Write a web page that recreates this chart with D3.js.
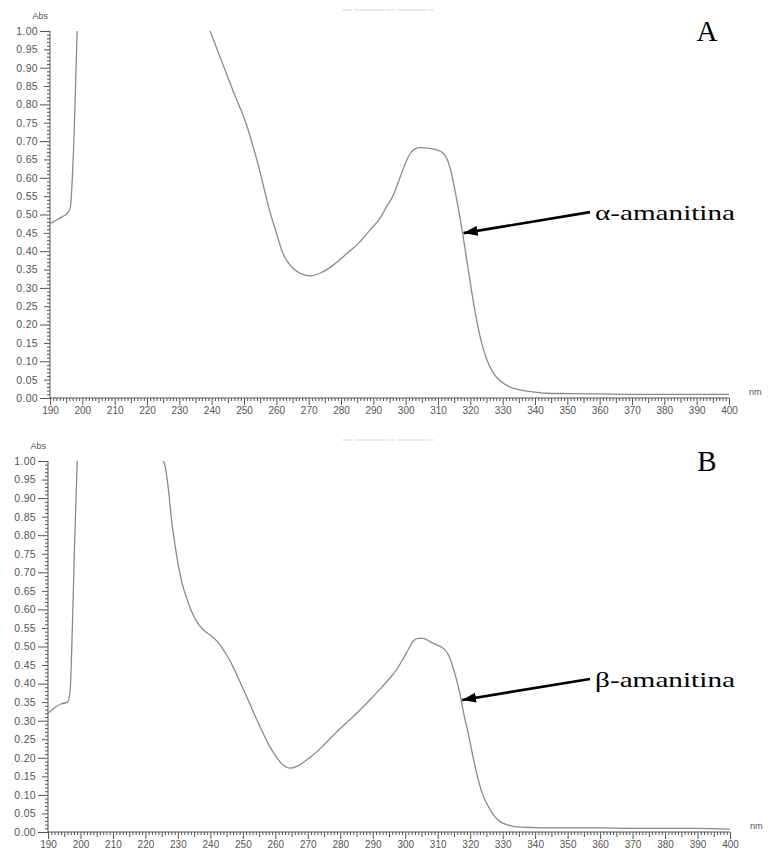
<!DOCTYPE html>
<html><head><meta charset="utf-8">
<script src="https://cdn.jsdelivr.net/npm/d3@7"></script>
<style>body{margin:0;background:#fff}svg{display:block}</style>
</head><body>
<svg id="c" width="769" height="858"></svg>
<script>
// ---- data ----
const xTickLabels = [190,200,210,220,230,240,250,260,270,280,290,300,310,320,330,340,350,360,370,380,390,400];
const yTickLabels = [0,0.05,0.10,0.15,0.20,0.25,0.30,0.35,0.40,0.45,0.50,0.55,0.60,0.65,0.70,0.75,0.80,0.85,0.90,0.95,1.00];

const nmA = [190,192,194,195.5,196.3,196.8,197.3,197.8,198.4,null,239.5,243,246.7,250.8,254.4,258,260,262.2,265,267.3,270.4,274,277.6,282,285.9,289,292.1,294,296.2,298,299.3,301,302.4,304.4,307,309.6,311.5,312.7,313.8,314.7,316,317.5,319,320.5,322,323.5,325,327,329.2,332,335.4,340,343.6,350,360,370,380,390,400];
const absA = [0.475,0.485,0.495,0.505,0.52,0.58,0.68,0.82,1.0,null,1.0,0.92,0.835,0.744,0.635,0.508,0.45,0.39,0.355,0.34,0.333,0.342,0.362,0.395,0.426,0.458,0.49,0.52,0.553,0.595,0.626,0.66,0.676,0.682,0.681,0.676,0.668,0.653,0.625,0.59,0.53,0.455,0.37,0.285,0.21,0.15,0.107,0.07,0.047,0.031,0.022,0.016,0.013,0.012,0.011,0.01,0.01,0.01,0.01];

const nmB = [190,192,194,196,196.8,197.5,198.2,199.0,null,225.5,226,227,228.1,229,230.1,231.3,232.7,234.2,235.8,237.8,239.9,242.5,245,247,249.1,251,253.2,255.5,258,260.5,262.5,264.5,266.5,269,272,275,278,282,286,289,292.2,295.3,297.5,299.4,300.8,302.5,304,305.5,307.6,309.5,311.7,313.3,314.3,315.5,316.8,318,319.4,320.7,322,323.5,325.1,327,329.2,332,335.3,340,350,360,370,380,390,400];
const absB = [0.32,0.335,0.345,0.35,0.38,0.55,0.78,1.0,null,1.0,0.989,0.93,0.836,0.78,0.72,0.67,0.63,0.595,0.567,0.545,0.531,0.51,0.477,0.445,0.405,0.368,0.324,0.28,0.235,0.2,0.18,0.172,0.176,0.19,0.21,0.235,0.262,0.295,0.328,0.355,0.385,0.415,0.44,0.468,0.49,0.515,0.522,0.522,0.513,0.505,0.495,0.478,0.455,0.42,0.374,0.32,0.266,0.21,0.158,0.11,0.077,0.048,0.028,0.018,0.013,0.012,0.011,0.011,0.01,0.01,0.01,0.008];

const panels = [
  {nm: nmA, abs: absA, letter: "A", label: "α-amanitina", arrowNm: 317.6,
   x0: 50, x1: 729, yTop: 31, yBot: 398},
  {nm: nmB, abs: absB, letter: "B", label: "β-amanitina", arrowNm: 317.2,
   x0: 48, x1: 730, yTop: 461, yBot: 832}
];

const svg = d3.select("#c");
const defs = svg.append("defs");
defs.append("marker").attr("id","ah").attr("viewBox","0 0 14 10")
  .attr("refX",14).attr("refY",5).attr("markerWidth",14).attr("markerHeight",10)
  .attr("markerUnits","userSpaceOnUse").attr("orient","auto")
  .append("path").attr("d","M0,0L14,5L0,10Z").attr("fill","#000");

const axisColor = "#555";
const textColor = "#555";
const sans = "Liberation Sans, Arial, sans-serif";
const serif = "Liberation Serif, Times New Roman, serif";

panels.forEach((p, i) => {
  const x = d3.scaleLinear().domain([190,400]).range([p.x0, p.x1]);
  const y = d3.scaleLinear().domain([0,1]).range([p.yBot, p.yTop]);
  const g = svg.append("g");

  // faint title trace
  g.append("line").attr("x1",342).attr("x2",434).attr("y1",p.yTop-21).attr("y2",p.yTop-21)
    .attr("stroke","#d8d8d8").attr("stroke-width",1.2).attr("stroke-dasharray","10,2,30,1");

  const styleTicks = s => { s.select(".domain").remove(); s.selectAll("line").attr("stroke",axisColor); };

  // y ticks
  const yMinor = d3.range(0,101).map(d=>d/100);
  g.append("g").attr("transform",`translate(${p.x0},0)`)
    .call(d3.axisLeft(y).tickValues(yMinor.filter(d=>Math.round(d*100)%5!==0)).tickSize(3).tickFormat(""))
    .call(styleTicks);
  g.append("g").attr("transform",`translate(${p.x0},0)`)
    .call(d3.axisLeft(y).tickValues(yTickLabels.filter(d=>Math.round(d*100)%10!==0)).tickSize(6).tickFormat(""))
    .call(styleTicks);
  g.append("g").attr("transform",`translate(${p.x0},0)`)
    .call(d3.axisLeft(y).tickValues(yTickLabels.filter(d=>Math.round(d*100)%10===0)).tickSize(10).tickFormat(""))
    .call(styleTicks);
  g.append("g").attr("transform",`translate(${p.x0},0)`)
    .call(d3.axisLeft(y).tickValues(yTickLabels).tickSize(0).tickPadding(12).tickFormat(d3.format(".2f")))
    .call(s=>{s.select(".domain").remove();
      s.selectAll("text").attr("fill",textColor).attr("font-family",sans).attr("font-size",10.5).attr("letter-spacing","0.3px");});

  // x ticks
  const xMinor = d3.range(190,401);
  g.append("g").attr("transform",`translate(0,${p.yBot})`)
    .call(d3.axisBottom(x).tickValues(xMinor.filter(d=>d%5!==0)).tickSize(3).tickFormat(""))
    .call(styleTicks);
  g.append("g").attr("transform",`translate(0,${p.yBot})`)
    .call(d3.axisBottom(x).tickValues(xMinor.filter(d=>d%5===0 && d%10!==0)).tickSize(5).tickFormat(""))
    .call(styleTicks);
  g.append("g").attr("transform",`translate(0,${p.yBot})`)
    .call(d3.axisBottom(x).tickValues(xTickLabels).tickSize(7).tickPadding(2).tickFormat(d3.format("d")))
    .call(s=>{styleTicks(s);
      s.selectAll("text").attr("fill",textColor).attr("font-family",sans).attr("font-size",10);});

  // axis lines
  g.append("line").attr("x1",p.x0).attr("x2",p.x0).attr("y1",y(0)).attr("y2",y(1)).attr("stroke",axisColor);
  g.append("line").attr("x1",x(190)).attr("x2",x(400)).attr("y1",p.yBot).attr("y2",p.yBot).attr("stroke",axisColor);

  // units
  g.append("text").attr("x",p.x0-2).attr("y",p.yTop-12).attr("text-anchor","end")
    .attr("font-family",sans).attr("font-size",9).attr("fill",textColor).text("Abs");
  g.append("text").attr("x",x(400)+20).attr("y",p.yBot-3)
    .attr("font-family",sans).attr("font-size",9).attr("fill",textColor).text("nm");

  // spectrum
  const pts = p.nm.map((n,k)=>({n, a: p.abs[k]}));
  const line = d3.line().defined(d=>d.n!==null && d.a!==null)
    .x(d=>x(d.n)).y(d=>y(d.a)).curve(d3.curveMonotoneX);
  g.append("path").datum(pts).attr("d",line).attr("fill","none")
    .attr("stroke","#8a8a8a").attr("stroke-width",1.3);

  // arrow to the curve
  const valid = pts.filter(d=>d.n!==null);
  const idx = d3.bisector(d=>d.n).left(valid, p.arrowNm);
  const a0 = valid[idx-1], a1 = valid[idx];
  const t = (p.arrowNm - a0.n)/(a1.n - a0.n);
  const av = a0.a + t*(a1.a - a0.a);
  const tipX = x(p.arrowNm)+1, tipY = y(av);
  g.append("line").attr("x1",590).attr("y1",tipY-21).attr("x2",tipX).attr("y2",tipY)
    .attr("stroke","#000").attr("stroke-width",2.6).attr("marker-end","url(#ah)");

  g.append("text").attr("x",595).attr("y",tipY-13)
    .attr("font-family",serif).attr("font-size",22).attr("fill","#000")
    .attr("textLength",140).attr("lengthAdjust","spacingAndGlyphs").text(p.label);
  g.append("text").attr("x",707).attr("y",p.yTop+10).attr("text-anchor","middle")
    .attr("font-family",serif).attr("font-size",29).attr("fill","#000").text(p.letter);
});
</script>
</body></html>
